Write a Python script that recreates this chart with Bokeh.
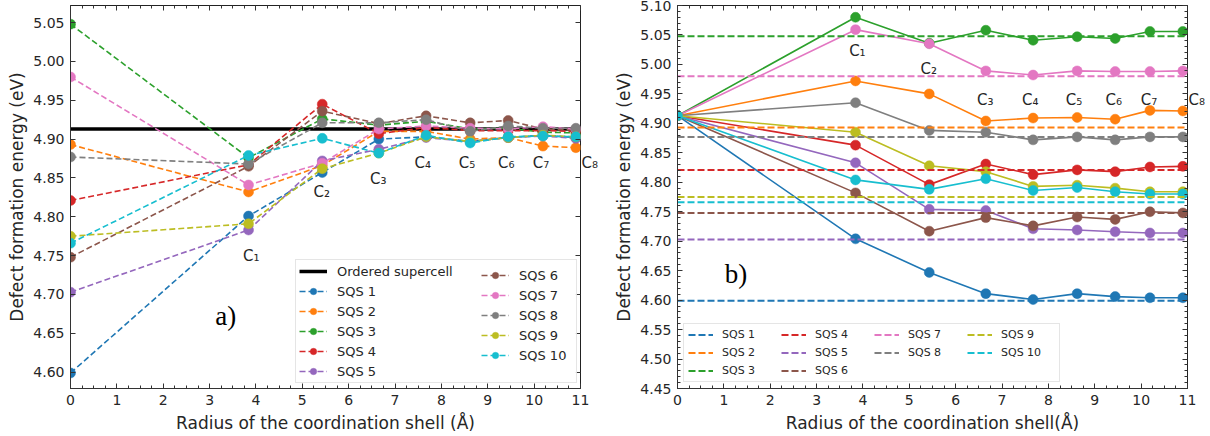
from bokeh.plotting import figure
from bokeh.layouts import row
from bokeh.models import (FixedTicker, LinearAxis, Legend, LegendItem, Label,
                          Range1d, PrintfTickFormatter, CustomJSTickFormatter)
from bokeh.embed import file_html
from bokeh.resources import INLINE

# ---------------- data ----------------
SERIES = ["SQS 1", "SQS 2", "SQS 3", "SQS 4", "SQS 5",
          "SQS 6", "SQS 7", "SQS 8", "SQS 9", "SQS 10"]
COLORS = ["#1f77b4", "#ff7f0e", "#2ca02c", "#d62728", "#9467bd",
          "#8c564b", "#e377c2", "#7f7f7f", "#bcbd22", "#17becf"]
SHELL_RADII = [3.84, 5.43, 6.65, 7.67, 8.62, 9.44, 10.19, 10.90]
SHELL_LABELS = ["C₁", "C₂", "C₃", "C₄", "C₅", "C₆", "C₇", "C₈"]
X_LIMITS = [0, 11]
ORDERED_ENERGY = 4.913
SQS_ENERGY = [4.599, 4.893, 5.048, 4.821, 4.703, 4.748, 4.980, 4.877, 4.775, 4.766]

# panel a) energies at shells C1..C8
A_SQS1 = [4.801, 4.857, 4.900, 4.903, 4.897, 4.902, 4.905, 4.902]
A_SQS2 = [4.832, 4.866, 4.910, 4.910, 4.900, 4.902, 4.891, 4.889]
A_SQS3 = [4.876, 4.926, 4.918, 4.923, 4.913, 4.914, 4.909, 4.908]
A_SQS4 = [4.867, 4.945, 4.907, 4.915, 4.911, 4.911, 4.911, 4.910]
A_SQS5 = [4.783, 4.872, 4.887, 4.902, 4.897, 4.902, 4.904, 4.901]
A_SQS6 = [4.865, 4.936, 4.920, 4.930, 4.921, 4.924, 4.913, 4.912]
A_SQS7 = [4.841, 4.869, 4.913, 4.917, 4.914, 4.913, 4.916, 4.913]
A_SQS8 = [4.868, 4.921, 4.921, 4.925, 4.910, 4.917, 4.914, 4.914]
A_SQS9 = [4.791, 4.862, 4.882, 4.903, 4.897, 4.902, 4.905, 4.903]
A_SQS10 = [4.879, 4.901, 4.882, 4.905, 4.895, 4.903, 4.904, 4.903]
A_VALUES = [A_SQS1, A_SQS2, A_SQS3, A_SQS4, A_SQS5,
            A_SQS6, A_SQS7, A_SQS8, A_SQS9, A_SQS10]

# panel b) energies at shells C1..C8
B_SQS1 = [4.704, 4.647, 4.611, 4.601, 4.611, 4.606, 4.604, 4.604]
B_SQS2 = [4.972, 4.950, 4.904, 4.909, 4.910, 4.907, 4.922, 4.921]
B_SQS3 = [5.080, 5.036, 5.058, 5.041, 5.047, 5.044, 5.056, 5.056]
B_SQS4 = [4.863, 4.796, 4.831, 4.813, 4.821, 4.818, 4.826, 4.827]
B_SQS5 = [4.833, 4.754, 4.752, 4.721, 4.719, 4.716, 4.714, 4.714]
B_SQS6 = [4.782, 4.717, 4.740, 4.726, 4.741, 4.737, 4.750, 4.748]
B_SQS7 = [5.059, 5.035, 4.989, 4.982, 4.989, 4.988, 4.988, 4.989]
B_SQS8 = [4.935, 4.888, 4.885, 4.872, 4.877, 4.872, 4.877, 4.877]
B_SQS9 = [4.885, 4.828, 4.818, 4.793, 4.795, 4.790, 4.784, 4.784]
B_SQS10 = [4.804, 4.788, 4.806, 4.786, 4.791, 4.784, 4.780, 4.780]
B_VALUES = [B_SQS1, B_SQS2, B_SQS3, B_SQS4, B_SQS5,
            B_SQS6, B_SQS7, B_SQS8, B_SQS9, B_SQS10]

A_YTICKS = [4.60, 4.65, 4.70, 4.75, 4.80, 4.85, 4.90, 4.95, 5.00, 5.05]
B_YTICKS = [4.45, 4.50, 4.55, 4.60, 4.65, 4.70, 4.75, 4.80, 4.85, 4.90,
            4.95, 5.00, 5.05, 5.10]
XTICKS = list(range(0, 12))

# ---------------- style / layout constants ----------------
FONT = "DejaVu Sans"
TEXT = "#262626"
XMINOR = [i * 0.25 for i in range(0, 45)]
B_YMINOR = [round(4.45 + i * 0.01, 2) for i in range(0, 66)]

A_LABEL_POS = [(3.90, 4.749), (5.42, 4.832), (6.64, 4.849), (7.60, 4.869),
               (8.55, 4.869), (9.40, 4.869), (10.15, 4.869)]
A_C8_Y = 4.869
B_LABEL_POS = [(3.88, 5.022), (5.42, 4.993), (6.64, 4.939), (7.61, 4.939),
               (8.55, 4.939), (9.41, 4.939), (10.17, 4.939)]
B_C8_Y = 4.939
FIG_H = 444


def style_axes(p, yticks, yminor):
    p.grid.visible = False
    p.outline_line_color = "#222222"
    p.outline_line_width = 1
    p.add_layout(LinearAxis(), "above")
    p.add_layout(LinearAxis(), "right")
    for ax in p.xaxis:
        ax.ticker = FixedTicker(ticks=XTICKS, minor_ticks=XMINOR)
    for ax in p.yaxis:
        ax.ticker = FixedTicker(ticks=yticks, minor_ticks=yminor)
        ax.formatter = PrintfTickFormatter(format="%.2f")
    for ax in list(p.xaxis) + list(p.yaxis):
        ax.major_tick_in = 5
        ax.major_tick_out = 0
        ax.minor_tick_in = 3
        ax.minor_tick_out = 0
        ax.major_tick_line_color = "#333333"
        ax.minor_tick_line_color = "#333333"
        ax.axis_line_color = "#333333"
        ax.major_label_text_font = FONT
        ax.major_label_text_font_size = "14px"
        ax.major_label_text_color = TEXT
        ax.major_label_standoff = 6
        ax.axis_label_text_font = FONT
        ax.axis_label_text_font_size = "17px"
        ax.axis_label_text_font_style = "normal"
        ax.axis_label_text_color = TEXT
    p.xaxis[0].axis_label_standoff = 3
    p.yaxis[0].axis_label_standoff = 3
    for ax in (p.above[0], p.right[0]):
        ax.major_label_text_color = None
        ax.major_label_standoff = 0
        ax.axis_line_color = None


def add_outer_shell_label(p, y_value, text):
    # the last shell label sits just outside the frame, like a right-hand tick label
    ax = LinearAxis(ticker=FixedTicker(ticks=[y_value], minor_ticks=[]),
                    formatter=CustomJSTickFormatter(code="return %r" % text))
    ax.axis_line_color = None
    ax.major_tick_line_color = None
    ax.minor_tick_line_color = None
    ax.major_tick_in = 0
    ax.major_tick_out = 0
    ax.major_label_standoff = 1
    ax.major_label_text_font = FONT
    ax.major_label_text_font_size = "15px"
    ax.major_label_text_color = TEXT
    p.add_layout(ax, "right")


def legend_style(font_size, glyph_w, row_h, spacing, padding, standoff):
    return dict(label_text_font=FONT, label_text_font_size=font_size,
                label_text_color=TEXT, glyph_width=glyph_w, glyph_height=row_h,
                label_height=row_h, spacing=spacing, padding=padding,
                label_standoff=standoff)


# ---------------- panel a ----------------
pa = figure(width=600, height=FIG_H, x_range=Range1d(X_LIMITS[0], X_LIMITS[1]),
            y_range=Range1d(4.579, 5.072), output_backend="svg",
            toolbar_location=None, min_border_left=70, min_border_right=17,
            min_border_top=3, min_border_bottom=48)
pa.xaxis[0].axis_label = "Radius of the coordination shell (Å)"
pa.yaxis[0].axis_label = "Defect formation energy (eV)"
style_axes(pa, A_YTICKS, [])

ordered = pa.line(X_LIMITS, [ORDERED_ENERGY, ORDERED_ENERGY], line_color="black",
                  line_width=3.5)
items_a = [LegendItem(label="Ordered supercell", renderers=[ordered])]
for name, color, base, vals in zip(SERIES, COLORS, SQS_ENERGY, A_VALUES):
    xs = [0] + SHELL_RADII
    ys = [base] + vals
    ln = pa.line(xs, ys, line_color=color, line_width=1.6, line_dash="6 3")
    sc = pa.scatter(xs, ys, size=10, fill_color=color, line_color=color, line_width=0.5)
    items_a.append(LegendItem(label=name, renderers=[ln, sc]))

leg_a1 = Legend(items=items_a[:6], location=(225, 5), margin=0, label_width=236,
                border_line_color="#cccccc", background_fill_alpha=0.85,
                **legend_style("13px", 28, 16, 4, 3, 10))
leg_a2 = Legend(items=items_a[6:], location=(411, 25), margin=0,
                border_line_color=None, background_fill_alpha=0.0,
                **legend_style("13px", 28, 16, 4, 3, 10))
pa.add_layout(leg_a1)
pa.add_layout(leg_a2)

for txt, (lx, ly) in zip(SHELL_LABELS[:7], A_LABEL_POS):
    pa.add_layout(Label(x=lx, y=ly, text=txt, text_font=FONT, text_font_size="15px",
                        text_color=TEXT, text_align="center", text_baseline="middle"))
add_outer_shell_label(pa, A_C8_Y, SHELL_LABELS[7])
pa.add_layout(Label(x=3.35, y=4.672, text="a)", text_font="Liberation Serif",
                    text_font_size="27px", text_color="black", text_align="center",
                    text_baseline="middle"))

# ---------------- panel b ----------------
pb = figure(width=610, height=FIG_H, x_range=Range1d(X_LIMITS[0], X_LIMITS[1]),
            y_range=Range1d(4.45, 5.10), output_backend="svg",
            toolbar_location=None, min_border_left=77, min_border_right=23,
            min_border_top=13, min_border_bottom=47)
pb.xaxis[0].axis_label = "Radius of the coordination shell(Å)"
pb.yaxis[0].axis_label = "Defect formation energy (eV)"
style_axes(pb, B_YTICKS, B_YMINOR)

for color, vals in zip(COLORS, B_VALUES):
    xs = [0] + SHELL_RADII
    ys = [ORDERED_ENERGY] + vals
    pb.line(xs, ys, line_color=color, line_width=1.6)
    pb.scatter(xs, ys, size=10, fill_color=color, line_color=color, line_width=0.5)

dash_r = []
for color, base in zip(COLORS, SQS_ENERGY):
    dash_r.append(pb.line(X_LIMITS, [base, base], line_color=color, line_width=2,
                          line_dash="7 3"))
blank = pb.line(x=[], y=[], line_alpha=0)
order = [0, 1, 2, 3, 4, 5, 6, 7, None, 8, 9, None]
items_b = []
for k in order:
    if k is None:
        items_b.append(LegendItem(label=" ", renderers=[blank]))
    else:
        items_b.append(LegendItem(label=SERIES[k], renderers=[dash_r[k]]))
leg_b = Legend(items=items_b, nrows=3, location="bottom_left", margin=6, label_width=54,
               border_line_color="#cccccc", background_fill_alpha=0.85,
               **legend_style("11px", 25, 13, 5, 4, 9))
pb.add_layout(leg_b)

for txt, (lx, ly) in zip(SHELL_LABELS[:7], B_LABEL_POS):
    pb.add_layout(Label(x=lx, y=ly, text=txt, text_font=FONT, text_font_size="15px",
                        text_color=TEXT, text_align="center", text_baseline="middle"))
add_outer_shell_label(pb, B_C8_Y, SHELL_LABELS[7])
pb.add_layout(Label(x=1.26, y=4.645, text="b)", text_font="Liberation Serif",
                    text_font_size="27px", text_color="black", text_align="center",
                    text_baseline="middle"))

layout = row(pa, pb, margin=(-8, 0, -8, 0))
open("out.html", "w").write(file_html(layout, INLINE))
